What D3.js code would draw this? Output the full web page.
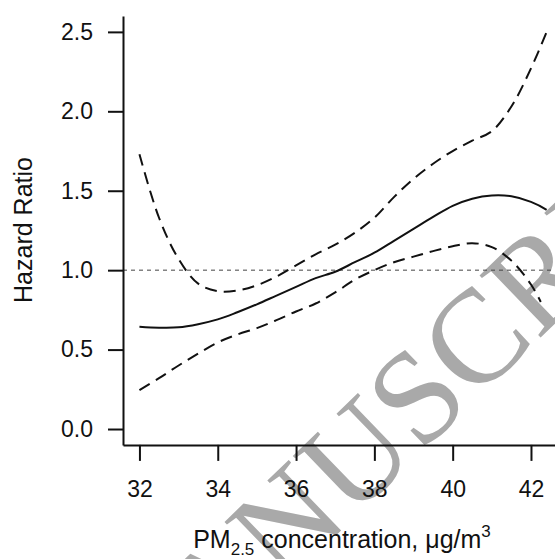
<!DOCTYPE html>
<html>
<head>
<meta charset="utf-8">
<script src="https://cdn.jsdelivr.net/npm/d3@7"></script>
<style>
  body { margin: 0; background: #fff; }
  svg { display: block; font-family: "Liberation Sans", Arial, sans-serif; }
</style>
</head>
<body>
<svg id="chart" width="555" height="559"></svg>
<script>
// PM2.5 values where the curves were read
const pm25 = [32, 32.5, 33, 33.5, 34, 34.5, 35, 35.5, 36, 36.5, 37, 37.5, 38, 38.5, 39, 39.5, 40, 40.5, 41, 41.5, 42, 42.4];
const pm25Lower = [32, 32.5, 33, 33.5, 34, 34.5, 35, 35.5, 36, 36.5, 37, 37.5, 38, 38.5, 39, 39.5, 40, 40.5, 41, 41.5, 42, 42.25];

// hazard ratio and 95% CI
const hr = [0.644, 0.638, 0.64, 0.66, 0.69, 0.735, 0.785, 0.84, 0.895, 0.95, 0.99, 1.05, 1.11, 1.185, 1.26, 1.335, 1.405, 1.45, 1.47, 1.465, 1.43, 1.38];
const upper = [1.73, 1.33, 1.07, 0.915, 0.868, 0.872, 0.905, 0.96, 1.03, 1.1, 1.16, 1.235, 1.33, 1.46, 1.575, 1.67, 1.75, 1.815, 1.875, 2.03, 2.27, 2.5];
const lower = [0.245, 0.32, 0.4, 0.475, 0.545, 0.595, 0.635, 0.685, 0.74, 0.79, 0.86, 0.94, 1.0, 1.05, 1.085, 1.12, 1.15, 1.17, 1.145, 1.06, 0.91, 0.8];

// ticks
const xTicks = [32, 34, 36, 38, 40, 42];
const yTicks = [0, 0.5, 1, 1.5, 2, 2.5];

const svg = d3.select("#chart");

// watermark, under everything else
svg.append("text")
  .attr("transform", "translate(128,736) rotate(-44)")
  .attr("font-family", "'Liberation Serif', 'Times New Roman', serif")
  .attr("font-size", 133)
  .attr("fill", "#a9a9a9")
  .text("MANUSCRIPT");

// scales (R style 4% padding)
const x = d3.scaleLinear().domain([31.58, 42.92]).range([123, 567]);
const y = d3.scaleLinear().domain([-0.1, 2.6]).range([444.9, 16]);

// reference line at HR = 1
svg.append("line")
  .attr("x1", x.range()[0]).attr("x2", 555)
  .attr("y1", y(1)).attr("y2", y(1))
  .attr("stroke", "#444")
  .attr("stroke-width", 1)
  .attr("stroke-dasharray", "4,4");

// axes
const yAxis = svg.append("g")
  .attr("transform", `translate(${x.range()[0]},0)`)
  .call(d3.axisLeft(y).tickValues(yTicks).tickFormat(d3.format(".1f")).tickSize(15).tickPadding(15).tickSizeOuter(0));

const xAxis = svg.append("g")
  .attr("transform", `translate(0,${y.range()[0]})`)
  .call(d3.axisBottom(x).tickValues(xTicks).tickFormat(d3.format("d")).tickSize(16).tickPadding(20).tickSizeOuter(0));

[yAxis, xAxis].forEach(g => {
  g.select(".domain").attr("stroke", "#111").attr("stroke-width", 2);
  g.selectAll(".tick line").attr("stroke", "#111").attr("stroke-width", 2);
  g.selectAll(".tick text")
    .attr("fill", "#111")
    .attr("font-size", 23)
    .attr("font-family", "'Liberation Sans', Arial, sans-serif");
});

// curves
const line = d3.line()
  .x(d => x(d[0]))
  .y(d => y(d[1]))
  .curve(d3.curveCatmullRom.alpha(0.5));

const series = [
  { pts: d3.zip(pm25, upper), dash: "12,7" },
  { pts: d3.zip(pm25Lower, lower), dash: "12,7" },
  { pts: d3.zip(pm25, hr), dash: null }
];

svg.selectAll("path.curve")
  .data(series)
  .enter()
  .append("path")
  .attr("class", "curve")
  .attr("d", d => line(d.pts))
  .attr("fill", "none")
  .attr("stroke", "#111")
  .attr("stroke-width", 2)
  .attr("stroke-dasharray", d => d.dash);

// axis titles
svg.append("text")
  .attr("transform", "translate(32,230) rotate(-90)")
  .attr("text-anchor", "middle")
  .attr("font-size", 25)
  .attr("fill", "#111")
  .text("Hazard Ratio");

const xt = svg.append("text")
  .attr("x", 342)
  .attr("y", 548)
  .attr("text-anchor", "middle")
  .attr("font-size", 25)
  .attr("fill", "#111");
xt.append("tspan").text("PM");
xt.append("tspan").attr("font-size", 17).attr("dy", 7).text("2.5");
xt.append("tspan").attr("dy", -7).text(" concentration, μg/m");
xt.append("tspan").attr("font-size", 17).attr("dy", -11).text("3");
</script>
</body>
</html>
